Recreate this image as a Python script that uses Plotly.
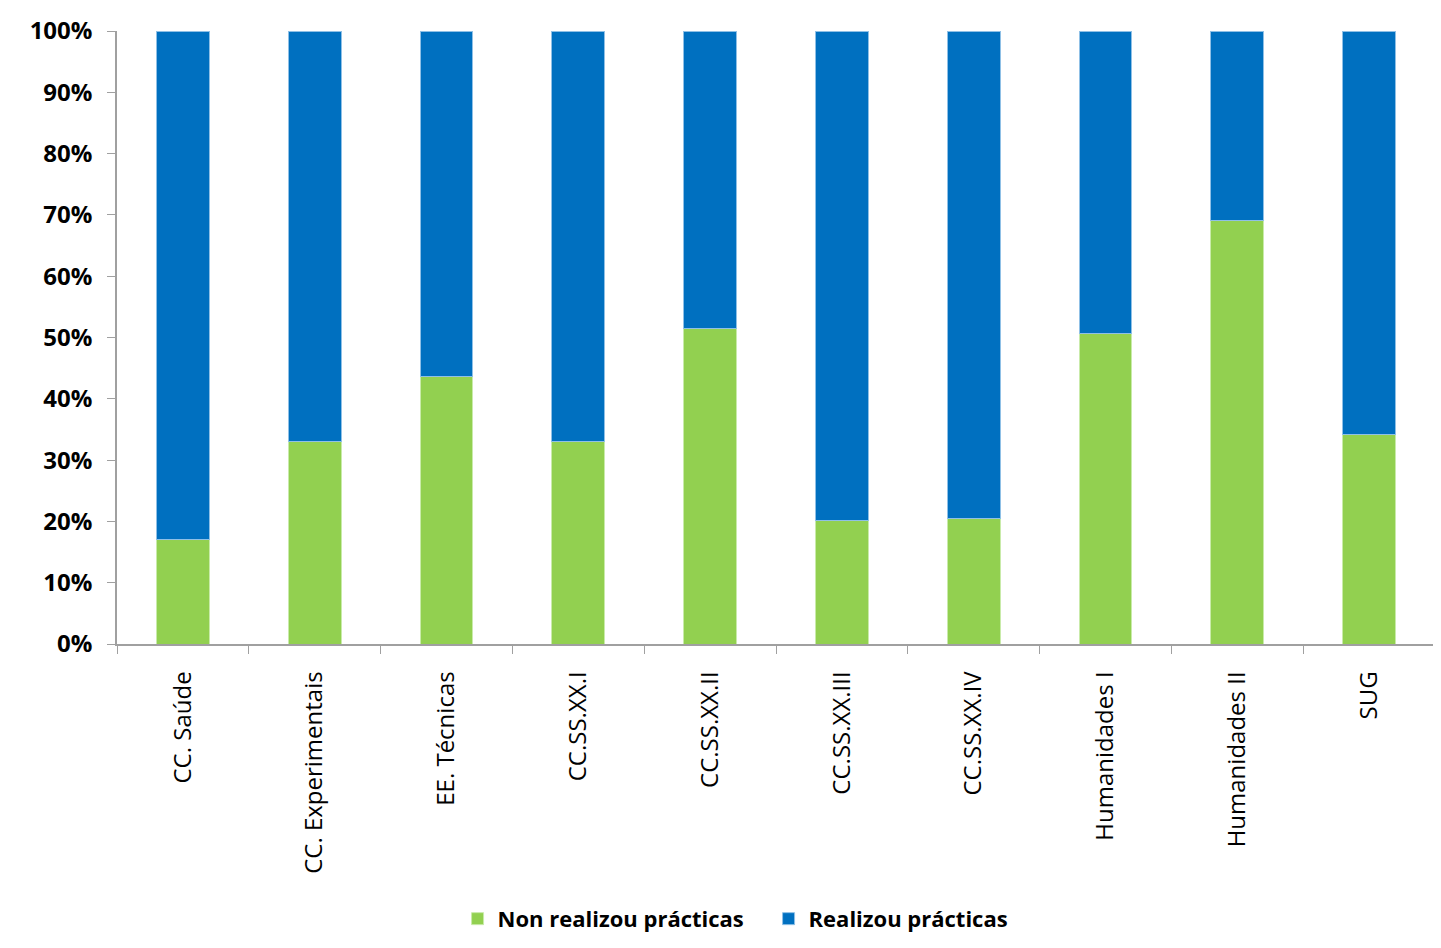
import plotly.graph_objects as go

categories = ["CC. Saúde", "CC. Experimentais", "EE. Técnicas", "CC.SS.XX.I", "CC.SS.XX.II",
              "CC.SS.XX.III", "CC.SS.XX.IV", "Humanidades I", "Humanidades II", "SUG"]
non_realizou = [17.1, 33.1, 43.7, 33.1, 51.5, 20.2, 20.4, 50.7, 69.1, 34.2]
realizou = [round(100 - v, 1) for v in non_realizou]
y_ticks = [0, 10, 20, 30, 40, 50, 60, 70, 80, 90, 100]
y_tick_labels = [f"{t}%" for t in y_ticks]

W, H = 1428, 932
fig = go.Figure()
fig.add_trace(go.Bar(x=categories, y=non_realizou, name="Non realizou prácticas",
                     marker=dict(color="#92d050", line=dict(color="#c9ebaa", width=1))))
fig.add_trace(go.Bar(x=categories, y=realizou, name="Realizou prácticas",
                     marker=dict(color="#0070c0", line=dict(color="#8fc0e6", width=1))))

fig.update_layout(
    width=W, height=H, barmode="stack", bargap=0.6,
    paper_bgcolor="white", plot_bgcolor="white",
    margin=dict(l=109, r=1, t=23, b=295),
    font=dict(family="Open Sans, sans-serif", color="#000000"),
    legend=dict(orientation="h", x=0.2584, xanchor="left", y=-0.446, yanchor="middle",
                font=dict(size=22, family="Open Sans, sans-serif", weight="bold"),
                itemwidth=30, entrywidth=266, entrywidthmode="pixels",
                traceorder="normal", bgcolor="rgba(0,0,0,0)"),
    xaxis=dict(type="category", tickangle=-90, tickson="boundaries", ticks="outside",
               ticklen=8, tickcolor="#a0a0a0", showline=True, linecolor="#a0a0a0",
               linewidth=1.5, showgrid=False, ticklabelstandoff=16,
               tickfont=dict(size=24, family="Open Sans, sans-serif")),
    yaxis=dict(range=[0, 100], tickvals=y_ticks, ticktext=y_tick_labels, ticks="outside",
               ticklen=8, tickcolor="#a0a0a0", showline=True, linecolor="#a0a0a0",
               linewidth=1.5, showgrid=False, zeroline=False, ticklabelstandoff=10,
               tickfont=dict(size=24, family="Open Sans, sans-serif", weight="bold")),
)
fig.write_html("out.html")
